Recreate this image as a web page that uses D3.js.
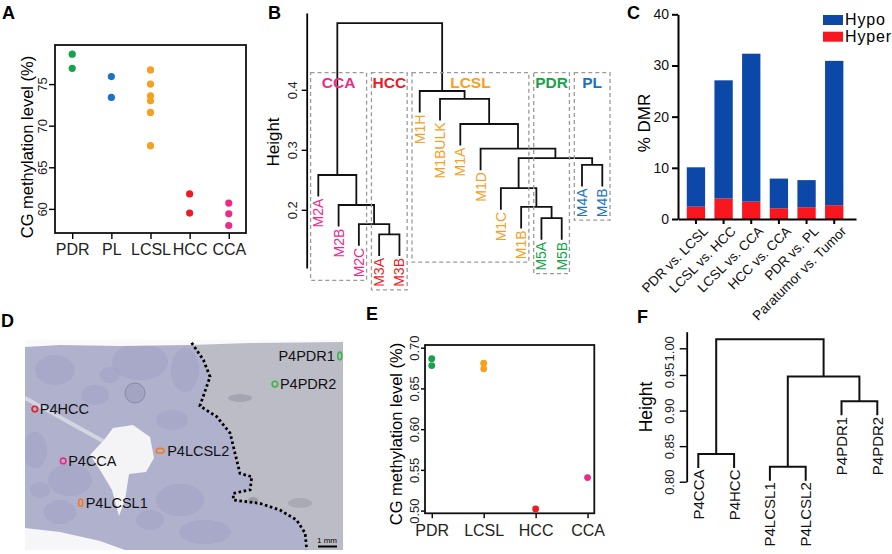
<!DOCTYPE html>
<html>
<head>
<meta charset="utf-8">
<script src="https://cdnjs.cloudflare.com/ajax/libs/d3/7.8.5/d3.min.js"></script>
<style>
  body { margin: 0; background: #fff; }
  svg { display: block; font-family: "Liberation Sans", Arial, sans-serif; }
</style>
</head>
<body>
<svg id="fig" width="892" height="554"></svg>
<script>
/* ------------------------- Data ------------------------- */
var groups = ["PDR", "PL", "LCSL", "HCC", "CCA"];
var groupColors = ["#17a34a", "#1b73c4", "#f7a01f", "#ec1c24", "#ee2a89"];

/* A: CG methylation level per sample (%) */
var aCategories = ["PDR", "PL", "LCSL", "HCC", "CCA"];
var aGroup = ["PDR", "PDR", "PL", "PL", "LCSL", "LCSL", "LCSL", "LCSL", "LCSL", "LCSL", "HCC", "HCC", "CCA", "CCA", "CCA"];
var aValue = [78.6, 76.9, 75.9, 73.4, 76.7, 75.0, 73.6, 73.0, 71.6, 67.6, 61.8, 59.5, 60.7, 59.4, 58.0];
var aTicks = [60, 65, 70, 75];

/* B: hierarchical clustering of multi-region samples */
var bLeaves = ["M2A", "M2B", "M2C", "M3A", "M3B", "M1H", "M1BULK", "M1A", "M1D", "M1C", "M1B", "M5A", "M5B", "M4A", "M4B"];
var bLeafGroup = ["CCA", "CCA", "CCA", "HCC", "HCC", "LCSL", "LCSL", "LCSL", "LCSL", "LCSL", "LCSL", "PDR", "PDR", "PL", "PL"];
var bMerges = [[-4, -5], [-12, -13], [-3, 1], [-2, 3], [-11, 2], [-10, 5], [-14, -15], [6, 7], [-9, 8], [-1, 4], [-8, 9], [-7, 11], [-6, 12], [10, 13]];
var bHeights = [0.159, 0.186, 0.176, 0.208, 0.205, 0.236, 0.275, 0.286, 0.302, 0.258, 0.343, 0.385, 0.398, 0.511];
var bBoxes = ["CCA", "HCC", "LCSL", "PDR", "PL"];
var bTicks = [0.2, 0.3, 0.4];

/* C: percentage of DMRs */
var cComparisons = ["PDR vs. LCSL", "LCSL vs. HCC", "LCSL vs. CCA", "HCC vs. CCA", "PDR vs. PL", "Paratumor vs. Tumor"];
var cHyper = [2.4, 4.0, 3.4, 2.1, 2.3, 2.7];
var cHypo = [7.7, 23.1, 28.9, 5.8, 5.3, 28.2];
var cTicks = [0, 10, 20, 30, 40];

/* D: sampled regions on the section (percent of image width / height) */
var dSamples = ["P4PDR1", "P4PDR2", "P4HCC", "P4CCA", "P4LCSL2", "P4LCSL1"];
var dGroup = ["PDR", "PDR", "HCC", "CCA", "LCSL", "LCSL"];
var dPosX = [99.0, 78.6, 3.1, 12.0, 42.5, 17.5];
var dPosY = [7.6, 21.0, 32.9, 57.6, 52.7, 77.5];
var dBorderX = [52.4, 56.1, 58.2, 55.0, 60.3, 64.5, 67.6, 71.3, 70.8, 65.5, 65.5, 73.9, 80.2, 85.4, 88.1, 88.6];
var dBorderY = [1.3, 9.5, 17.5, 31.4, 36.5, 44.4, 63.5, 65.1, 71.4, 73.0, 76.2, 77.8, 81.0, 85.7, 92.0, 100];

/* E: CG methylation level of patient P4 regions */
var eCategories = ["PDR", "LCSL", "HCC", "CCA"];
var eGroup = ["PDR", "PDR", "LCSL", "LCSL", "HCC", "CCA"];
var eValue = [0.6865, 0.678, 0.681, 0.674, 0.502, 0.5405];
var eTicks = [0.50, 0.55, 0.60, 0.65, 0.70];

/* F: clustering of patient P4 regions */
var fLeaves = ["P4CCA", "P4HCC", "P4LCSL1", "P4LCSL2", "P4PDR1", "P4PDR2"];
var fMerges = [[-3, -4], [-1, -2], [-5, -6], [1, 3], [2, 4]];
var fHeights = [0.821, 0.839, 0.913, 0.948, 1.017];
var fTicks = [0.80, 0.85, 0.90, 0.95, 1.00];

/* ------------------------- General ------------------------- */
var svg = d3.select("#fig");
var color = d3.scaleOrdinal().domain(groups).range(groupColors);

function panelLabel(txt, x, y) {
    svg.append("text").text(txt)
        .attr("x", x).attr("y", y)
        .attr("font-size", 18).attr("font-weight", "bold");
}

/* rotate tick labels of a left axis so they read bottom-to-top */
function rotateLeftTicks(axisG, offset, size) {
    axisG.selectAll("text")
        .attr("x", null).attr("dy", null)
        .attr("transform", "translate(" + (-offset) + ",0)rotate(-90)")
        .attr("text-anchor", "middle")
        .attr("font-size", size)
        .attr("fill", "#222");
    axisG.selectAll("line").attr("stroke-width", 1.4);
}

function yTitle(txt, x, y, size) {
    svg.append("text").text(txt)
        .attr("transform", "translate(" + x + "," + y + ")rotate(-90)")
        .attr("text-anchor", "middle")
        .attr("font-size", size);
}

/* draw an hclust-style dendrogram, returns leaf end positions */
function drawDendro(g, leaves, merges, heights, x, y, hang, width) {
    var nodes = [], leafEnd = [];
    function child(c, h) {
        if (c < 0) {
            leafEnd[-c - 1] = y(h - hang);
            return { x: x(leaves[-c - 1]), y: y(h - hang) };
        }
        return { x: nodes[c - 1].x, y: y(nodes[c - 1].h) };
    }
    merges.forEach(function(m, i) {
        var a = child(m[0], heights[i]),
            b = child(m[1], heights[i]),
            yh = y(heights[i]);
        nodes.push({ x: (a.x + b.x) / 2, h: heights[i] });
        g.append("path")
            .attr("d", "M" + a.x + "," + a.y + "V" + yh + "H" + b.x + "V" + b.y)
            .attr("fill", "none")
            .attr("stroke", "#111")
            .attr("stroke-width", width);
    });
    return leafEnd;
}
/* ----------------------- End General ----------------------- */

/* ------------------------- Panel A ------------------------- */
var aL = 55, aR = 246, aT = 45, aB = 233;
var ax = d3.scalePoint().domain(aCategories).range([aL, aR]).padding(0.44);
var ay = d3.scaleLinear().domain([57.1, 79.7]).range([aB, aT]);

var gA = svg.append("g");
var aAxisY = gA.append("g")
    .attr("transform", "translate(" + aL + ",0)")
    .call(d3.axisLeft(ay).tickValues(aTicks).tickSize(6).tickSizeOuter(0));
aAxisY.select(".domain").remove();
rotateLeftTicks(aAxisY, 8, 13);

var aAxisX = gA.append("g")
    .attr("transform", "translate(0," + aB + ")")
    .call(d3.axisBottom(ax).tickSize(6).tickSizeOuter(0));
aAxisX.select(".domain").remove();
aAxisX.selectAll("line").attr("stroke-width", 1.4);
aAxisX.selectAll("text").attr("font-size", 16).attr("dy", null).attr("y", 22).attr("fill", "#222");

gA.append("rect")
    .attr("x", aL).attr("y", aT)
    .attr("width", aR - aL).attr("height", aB - aT)
    .attr("fill", "none").attr("stroke", "#111").attr("stroke-width", 1.8);

gA.selectAll("circle")
    .data(aValue)
    .enter().append("circle")
    .attr("cx", function(d, i) { return ax(aGroup[i]); })
    .attr("cy", function(d) { return ay(d); })
    .attr("r", 3.6)
    .attr("fill", function(d, i) { return color(aGroup[i]); });

yTitle("CG methylation level (%)", 33, 147, 16.5);
panelLabel("A", 2, 19);
/* ----------------------- End Panel A ----------------------- */

/* ------------------------- Panel B ------------------------- */
var bx = d3.scalePoint().domain(bLeaves).range([318.3, 602.3]);
var by = d3.scaleLinear().domain([0.103, 0.528]).range([268, 13]);
var bStep = bx.step();

var gB = svg.append("g");
var bAxis = gB.append("g")
    .attr("transform", "translate(306.7,0)")
    .call(d3.axisLeft(by).tickValues(bTicks).tickSize(5).tickSizeOuter(0).tickFormat(d3.format(".1f")));
bAxis.select(".domain").attr("stroke-width", 1.8);
rotateLeftTicks(bAxis, 10, 13);
yTitle("Height", 279, 142, 17);

var bEnd = drawDendro(gB, bLeaves, bMerges, bHeights, bx, by, 0.036, 1.8);

var bLabels = gB.append("g").selectAll("text")
    .data(bLeaves)
    .enter().append("text")
    .attr("transform", function(d, i) { return "translate(" + bx(d) + "," + (bEnd[i] + 2) + ")rotate(-90)"; })
    .attr("text-anchor", "end")
    .attr("dy", "0.36em")
    .attr("font-size", 14)
    .attr("fill", function(d, i) { return color(bLeafGroup[i]); })
    .text(function(d) { return d; });

/* dashed boxes around each region */
var bLabelLen = bLabels.nodes().map(function(n) { return n.getComputedTextLength(); });
bBoxes.forEach(function(grp) {
    var idx = d3.range(bLeaves.length).filter(function(i) { return bLeafGroup[i] === grp; });
    var x0 = bx(bLeaves[idx[0]]) - bStep * 0.38,
        x1 = bx(bLeaves[idx[idx.length - 1]]) + bStep * 0.38,
        bottom = d3.max(idx, function(i) { return bEnd[i] + 2 + bLabelLen[i]; }) + 3;
    gB.append("rect")
        .attr("x", x0).attr("y", 72.7)
        .attr("width", x1 - x0).attr("height", bottom - 72.7)
        .attr("fill", "none")
        .attr("stroke", "#9a9a9a")
        .attr("stroke-width", 1.3)
        .attr("stroke-dasharray", "4,3");
    gB.append("text").text(grp)
        .attr("x", (x0 + x1) / 2).attr("y", 87.5)
        .attr("text-anchor", "middle")
        .attr("font-size", 15.5)
        .attr("font-weight", "bold")
        .attr("fill", color(grp));
});
panelLabel("B", 268, 19);
/* ----------------------- End Panel B ----------------------- */

/* ------------------------- Panel C ------------------------- */
var cx = d3.scaleBand().domain(cComparisons).range([678, 856])
    .paddingInner(0.338).paddingOuter(0.387).align(0.41);
var cy = d3.scaleLinear().domain([0, 40]).range([219, 14.3]);
var cData = cComparisons.map(function(k, i) { return { name: k, Hyper: cHyper[i], Hypo: cHypo[i] }; });
var cStack = d3.stack().keys(["Hyper", "Hypo"])(cData);
var cColor = d3.scaleOrdinal().domain(["Hypo", "Hyper"]).range(["#0b48a8", "#f8161f"]);

var gC = svg.append("g");
gC.append("g").selectAll("g")
    .data(cStack)
    .enter().append("g")
        .attr("fill", function(d) { return cColor(d.key); })
    .selectAll("rect")
    .data(function(d) { return d; })
    .enter().append("rect")
        .attr("x", function(d) { return cx(d.data.name); })
        .attr("y", function(d) { return cy(d[1]); })
        .attr("width", cx.bandwidth())
        .attr("height", function(d) { return cy(d[0]) - cy(d[1]); });

var cAxisY = gC.append("g")
    .attr("transform", "translate(678,0)")
    .call(d3.axisLeft(cy).tickValues(cTicks).tickSize(6).tickSizeOuter(0));
cAxisY.selectAll("path,line").attr("stroke-width", 2);
cAxisY.selectAll("text").attr("font-size", 14).attr("x", -9).attr("fill", "#111");

var cAxisX = gC.append("g")
    .attr("transform", "translate(0,219)")
    .call(d3.axisBottom(cx).tickSize(5).tickSizeOuter(0));
cAxisX.selectAll("path,line").attr("stroke-width", 2);
cAxisX.selectAll("text")
    .attr("x", null).attr("y", null).attr("dy", null)
    .attr("transform", "translate(13,13)rotate(-45)")
    .attr("text-anchor", "end")
    .attr("font-size", 13.5)
    .attr("fill", "#111");

yTitle("% DMR", 650, 123, 17);

var cLegend = gC.append("g").selectAll("g")
    .data(["Hypo", "Hyper"])
    .enter().append("g")
        .attr("transform", function(d, i) { return "translate(823," + (15 + i * 16.7) + ")"; });
cLegend.append("rect").attr("width", 20).attr("height", 10).attr("fill", cColor);
cLegend.append("text").text(function(d) { return d; })
    .attr("x", 22).attr("y", 10).attr("font-size", 16).attr("textLength", function(d) { return d === "Hypo" ? 40 : 46; });

panelLabel("C", 627, 19);
/* ----------------------- End Panel C ----------------------- */

/* ------------------------- Panel D ------------------------- */
var dx = d3.scaleLinear().domain([0, 100]).range([25, 343]);
var dy = d3.scaleLinear().domain([0, 100]).range([340, 550]);
var gD = svg.append("g");
gD.append("clipPath").attr("id", "dclip")
    .append("rect").attr("x", 25).attr("y", 340).attr("width", 318).attr("height", 210);
var tissue = gD.append("g").attr("clip-path", "url(#dclip)");

/* normal liver on the right, tumour on the left */
tissue.append("rect").attr("x", 25).attr("y", 340).attr("width", 318).attr("height", 210).attr("fill", "#bcbcc6");
var border = dBorderX.map(function(v, i) { return [dx(v), dy(dBorderY[i])]; });
tissue.append("path")
    .attr("d", d3.line()([[dx(0), dy(0)]].concat(border).concat([[dx(0), dy(100)]])) + "Z")
    .attr("fill", "#b0b1cd");

/* some texture of the section */
var blobs = [[55, 370, 20, 15], [140, 362, 28, 18], [70, 480, 22, 16], [180, 500, 24, 16], [205, 532, 26, 12],
             [60, 512, 16, 12], [172, 420, 16, 10], [95, 395, 14, 10], [35, 450, 12, 18], [150, 520, 14, 10],
             [185, 370, 14, 22], [110, 375, 10, 8], [40, 490, 10, 8]];
tissue.selectAll(".blob").data(blobs).enter().append("ellipse")
    .attr("cx", function(d) { return d[0]; }).attr("cy", function(d) { return d[1]; })
    .attr("rx", function(d) { return d[2]; }).attr("ry", function(d) { return d[3]; })
    .attr("fill", "#9fa0c5").attr("opacity", 0.5);
tissue.append("circle").attr("cx", 135).attr("cy", 393).attr("r", 10)
    .attr("fill", "#a3a4c2").attr("stroke", "#7f809e").attr("stroke-width", 0.8);
tissue.append("ellipse").attr("cx", 240).attr("cy", 398).attr("rx", 12).attr("ry", 4).attr("fill", "#8e8e9c").attr("opacity", 0.5);
tissue.append("ellipse").attr("cx", 300).attr("cy", 503).attr("rx", 12).attr("ry", 5).attr("fill", "#8e8e9c").attr("opacity", 0.4);
tissue.append("ellipse").attr("cx", 253).attr("cy", 500).attr("rx", 5).attr("ry", 3).attr("fill", "#7d7d8c").attr("opacity", 0.5);
tissue.append("line").attr("x1", 25).attr("y1", 398).attr("x2", 112).attr("y2", 446)
    .attr("stroke", "#d4d5e3").attr("stroke-width", 4);
tissue.append("path")
    .attr("d", "M25,340H343V342L250,343L190,345L120,346L60,345L25,347Z")
    .attr("fill", "#fafafa");
tissue.append("path")
    .attr("d", "M113,428L133,425L150,437L154,458L146,472L129,474L125,500L119,516L112,490L100,470L90,455L104,440Z")
    .attr("fill", "#f4f4f6");
tissue.append("path")
    .attr("d", "M25,528L60,532L100,541L125,550L25,550Z")
    .attr("fill", "#f6f6f8");

/* tumour border */
gD.append("path")
    .attr("d", d3.line()(border))
    .attr("fill", "none")
    .attr("stroke", "#000")
    .attr("stroke-width", 2.8)
    .attr("stroke-dasharray", "2.6,2.6");

/* sampled regions */
var dIsVert = function(d) { return d === "P4PDR1" || d === "P4LCSL1"; };
var dIsWide = function(d) { return d === "P4LCSL2"; };
gD.selectAll(".mark").data(dSamples).enter().append("ellipse")
    .attr("cx", function(d, i) { return dx(dPosX[i]); })
    .attr("cy", function(d, i) { return dy(dPosY[i]); })
    .attr("rx", function(d) { return dIsVert(d) ? 2 : (dIsWide(d) ? 4 : 2.8); })
    .attr("ry", function(d) { return dIsVert(d) ? 3.8 : (dIsWide(d) ? 2.4 : 2.8); })
    .attr("fill", "none")
    .attr("stroke", function(d, i) { return dGroup[i] === "LCSL" ? "#f47920" : (dGroup[i] === "PDR" ? "#3cb44a" : color(dGroup[i])); })
    .attr("stroke-width", 1.6);
gD.selectAll(".lab").data(dSamples).enter().append("text")
    .attr("x", function(d, i) { return d === "P4PDR1" ? dx(dPosX[i]) - 5 : dx(dPosX[i]) + (dIsWide(d) ? 7 : 5); })
    .attr("y", function(d, i) { return dy(dPosY[i]); })
    .attr("dy", "0.36em")
    .attr("text-anchor", function(d) { return d === "P4PDR1" ? "end" : "start"; })
    .attr("font-size", 14.5)
    .attr("fill", "#111")
    .text(function(d) { return d; });

/* scale bar */
gD.append("text").text("1 mm").attr("x", 327).attr("y", 543).attr("text-anchor", "middle").attr("font-size", 8);
gD.append("line").attr("x1", 318).attr("x2", 337).attr("y1", 546.5).attr("y2", 546.5).attr("stroke", "#000").attr("stroke-width", 2);

panelLabel("D", 1, 327);
/* ----------------------- End Panel D ----------------------- */

/* ------------------------- Panel E ------------------------- */
var eL = 425, eR = 594.3, eT = 345, eB = 513.3;
var ex = d3.scalePoint().domain(eCategories).range([eL, eR]).padding(0.13);
var ey = d3.scaleLinear().domain([0.4967, 0.7033]).range([eB, eT]);

var gE = svg.append("g");
var eAxisY = gE.append("g")
    .attr("transform", "translate(" + eL + ",0)")
    .call(d3.axisLeft(ey).tickValues(eTicks).tickSize(4).tickSizeOuter(0).tickFormat(d3.format(".2f")));
eAxisY.select(".domain").remove();
rotateLeftTicks(eAxisY, 6, 13);

var eAxisX = gE.append("g")
    .attr("transform", "translate(0," + eB + ")")
    .call(d3.axisBottom(ex).tickSize(5).tickSizeOuter(0));
eAxisX.select(".domain").remove();
eAxisX.selectAll("line").attr("stroke-width", 1.4);
eAxisX.selectAll("text").attr("font-size", 16).attr("dy", null).attr("y", 23).attr("fill", "#222");

gE.append("rect")
    .attr("x", eL).attr("y", eT)
    .attr("width", eR - eL).attr("height", eB - eT)
    .attr("fill", "none").attr("stroke", "#111").attr("stroke-width", 1.8);

gE.selectAll("circle")
    .data(eValue)
    .enter().append("circle")
    .attr("cx", function(d, i) { return ex(eGroup[i]); })
    .attr("cy", function(d) { return ey(d); })
    .attr("r", 3.4)
    .attr("fill", function(d, i) { return color(eGroup[i]); });

yTitle("CG methylation level (%)", 401.5, 434, 16.5);
panelLabel("E", 366, 320);
/* ----------------------- End Panel E ----------------------- */

/* ------------------------- Panel F ------------------------- */
var fx = d3.scalePoint().domain(fLeaves).range([698.3, 877.3]);
var fy = d3.scaleLinear().domain([0.80, 0.95, 1.00, 1.031]).range([481.7, 375, 348.3, 331.7]);

var gF = svg.append("g");
var fAxis = gF.append("g")
    .attr("transform", "translate(686.7,0)")
    .call(d3.axisLeft(fy).tickValues(fTicks).tickSize(7).tickSizeOuter(0).tickFormat(d3.format(".2f")));
fAxis.select(".domain").attr("stroke-width", 1.8);
rotateLeftTicks(fAxis, 13, 13);
yTitle("Height", 651.5, 407, 17.5);

var fEnd = drawDendro(gF, fLeaves, fMerges, fHeights, fx, fy, 0.0197, 2);
gF.append("g").selectAll("text")
    .data(fLeaves)
    .enter().append("text")
    .attr("transform", function(d, i) { return "translate(" + fx(d) + "," + (fEnd[i] + 1.5) + ")rotate(-90)"; })
    .attr("text-anchor", "end")
    .attr("dy", "0.36em")
    .attr("font-size", 15)
    .attr("fill", "#111")
    .text(function(d) { return d; });

panelLabel("F", 637, 323);
/* ----------------------- End Panel F ----------------------- */
</script>
</body>
</html>
